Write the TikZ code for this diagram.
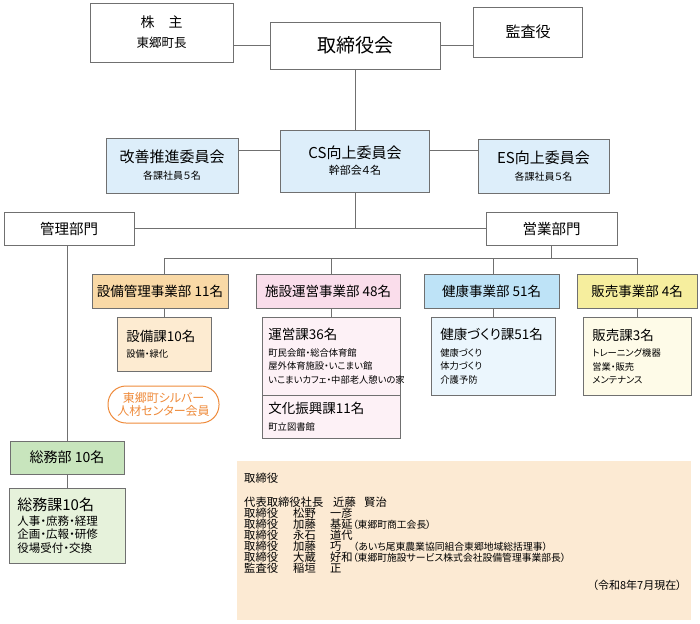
\documentclass[tikz,border=0pt]{standalone}
\usepackage{fontspec}
\setmainfont{Noto Sans CJK JP}[RawFeature=+palt]
\usepackage{tikz}
\usetikzlibrary{positioning}
\definecolor{linegray}{HTML}{707070}
\definecolor{iinkaiblue}{HTML}{DDEEFA}
\definecolor{setsubibg}{HTML}{F9D9A6}
\definecolor{setsubilt}{HTML}{FDEBD1}
\definecolor{shisetsubg}{HTML}{FADDEB}
\definecolor{shisetsult}{HTML}{FDF1F6}
\definecolor{kenkobg}{HTML}{BEE3F7}
\definecolor{kenkolt}{HTML}{EBF6FD}
\definecolor{hanbaibg}{HTML}{F6EE9E}
\definecolor{hanbailt}{HTML}{FEFBE8}
\definecolor{somubg}{HTML}{C8E5BD}
\definecolor{somult}{HTML}{E6F2DB}
\definecolor{yakuinbg}{HTML}{FCEAD3}
\definecolor{silver}{HTML}{EE8A3A}
\newcommand{\fsz}[2]{\fontsize{#1}{#2}\selectfont}
\newcommand{\yakuinline}[3]{\makebox[49pt][l]{#1}\makebox[37pt][l]{#2}#3}

\begin{document}
\begin{tikzpicture}[x=1pt,y=-1pt,
    box/.style={draw=linegray, line width=0.8pt, inner sep=0pt, align=center},
    unitbox/.style={box, align=left, anchor=north west, inner xsep=9pt},
    link/.style={draw=linegray, line width=0.8pt}]
  \useasboundingbox (0,0) rectangle (700,623);
  % Top level
  \node[box, minimum width=143pt, minimum height=59pt] (kabunushi) at (161.5,32.5)
    {{\fsz{14}{16}株　主}\\[8pt]{\fsz{12.5}{14}東郷町長}};
  \node[box, minimum width=170pt, minimum height=47pt, font=\fsz{19}{22}] (torishimari) at (355,45.5) {取締役会};
  \node[box, minimum width=109pt, minimum height=50pt, font=\fsz{15}{18}] (kansa) at (528,32) {監査役};
  \draw[link] (torishimari.west) -- (torishimari.west -| kabunushi.east);
  \draw[link] (torishimari.east) -- (torishimari.east -| kansa.west);
  % Committees
  \node[box, fill=iinkaiblue, minimum width=132pt, minimum height=55pt] (kaizen) at (172,165.5)
    {{\fsz{15}{18}改善推進委員会}\\[5pt]{\fsz{10}{12}各課社員５名}};
  \node[box, fill=iinkaiblue, minimum width=149pt, minimum height=62pt] (cs) at (355,161)
    {{\fsz{15}{18}CS向上委員会}\\[4pt]{\fsz{11}{13}幹部会４名}};
  \node[box, fill=iinkaiblue, minimum width=131pt, minimum height=54pt] (es) at (543.5,166)
    {{\fsz{15}{18}ES向上委員会}\\[5pt]{\fsz{10}{12}各課社員５名}};
  \coordinate (iinkai) at (0,150);
  \draw[link] (torishimari.south) -- (cs.north);
  \draw[link] (kaizen.east |- iinkai) -- (cs.west |- iinkai);
  \draw[link] (cs.east |- iinkai) -- (es.west |- iinkai);
  % Departments
  \node[box, minimum width=130pt, minimum height=33pt, font=\fsz{14.5}{16}] (kanri) at (69,228.5) {管理部門};
  \node[box, minimum width=131pt, minimum height=33pt, font=\fsz{14.5}{16}] (eigyo) at (551.5,228.5) {営業部門};
  \draw[link] (kanri.east) -- (eigyo.west);
  \draw[link] (cs.south) -- (cs.south |- kanri.east);
  % Divisions
  \node[box, fill=setsubibg, minimum width=136pt, minimum height=34pt, font=\fsz{13.5}{16}] (setsubi) at (160,291) {設備管理事業部 11名};
  \node[box, fill=shisetsubg, minimum width=144pt, minimum height=34pt, font=\fsz{13.5}{16}] (shisetsu) at (328,291) {施設運営事業部 48名};
  \node[box, fill=kenkobg, minimum width=135pt, minimum height=34pt, font=\fsz{13.5}{16}] (kenko) at (491.5,291) {健康事業部 51名};
  \node[box, fill=hanbaibg, minimum width=120pt, minimum height=34pt, font=\fsz{13.5}{16}] (hanbai) at (637,291) {販売事業部 4名};
  % Sections
  \node[unitbox, fill=setsubilt, text width=76pt, minimum height=54pt, font=\fsz{9.3}{13.5}] (setsubika) at (117,317)
    {{\fsz{13.5}{16}設備課10名}\\[3pt]設備・緑化};
  \node[unitbox, fill=shisetsult, text width=126pt, minimum height=78pt, inner xsep=6pt, font=\fsz{9.3}{13.5}] (uneika) at (262,317)
    {{\fsz{13.5}{16}運営課36名}\\[3pt]町民会館・総合体育館\\屋外体育施設・いこまい館\\いこまいカフェ・中部老人憩いの家};
  \node[unitbox, fill=shisetsult, text width=126pt, minimum height=43pt, inner xsep=6pt, font=\fsz{9.3}{13.5}] (bunka) at (262,395)
    {{\fsz{13.5}{16}文化振興課11名}\\[3pt]町立図書館};
  \node[unitbox, fill=kenkolt, text width=106pt, minimum height=78pt, font=\fsz{9.3}{13.5}] (kenkoka) at (431,317)
    {{\fsz{13.5}{16}健康づくり課51名}\\[3pt]健康づくり\\体力づくり\\介護予防};
  \node[unitbox, fill=hanbailt, text width=90pt, minimum height=78pt, font=\fsz{9.3}{13.5}] (hanbaika) at (583,317)
    {{\fsz{13.5}{16}販売課3名}\\[3pt]トレーニング機器\\営業・販売\\メンテナンス};
  % Connections of the sales side
  \coordinate (bus) at (0,258);
  \draw[link] (eigyo.south) -- (eigyo.south |- bus);
  \draw[link] (setsubika.north |- bus) -- (hanbaika.north |- bus);
  \foreach \dv/\sc in {setsubi/setsubika, shisetsu/uneika, kenko/kenkoka, hanbai/hanbaika} {
    \draw[link] (\sc.north |- bus) -- (\sc.north |- \dv.north);
    \draw[link] (\sc.north |- \dv.south) -- (\sc.north);
  }
  % Silver members
  \node[draw=silver, line width=1pt, rounded corners=18pt, minimum width=111pt, minimum height=37pt,
    inner sep=0pt, align=center, text=silver, font=\fsz{12}{13.5}] (silverjinzai) at (163.5,404.5)
    {東郷町シルバー\\人材センター会員};
  % General affairs
  \node[box, fill=somubg, minimum width=114pt, minimum height=33pt, font=\fsz{14}{16}] (somubu) at (67,457.5) {総務部 10名};
  \node[unitbox, fill=somult, text width=100pt, minimum height=75pt, inner xsep=8pt, font=\fsz{11.5}{13.5}] (somuka) at (9,488)
    {{\fsz{15}{17}総務課10名}\\[1pt]人事・庶務・経理\\企画・広報・研修\\役場受付・交換};
  \draw[link] (kanri.south -| somubu.north) -- (somubu.north);
  \draw[link] (somubu.south) -- (somuka.north -| somubu.south);
  % Officers
  \node[fill=yakuinbg, minimum width=454pt, minimum height=159pt, inner sep=0pt, anchor=north west] (yakuin) at (237,461) {};
  \node[anchor=west, inner sep=0pt, font=\fsz{11.3}{13}] (yakuinhead) at (244,478) {取締役};
  \node[anchor=north west, inner sep=0pt, align=left, font=\fsz{11.3}{11}] (yakuinlist) at (244,496.5)
    {\makebox[89pt][l]{代表取締役社長}\makebox[31pt][l]{近藤}賢治\\
     \yakuinline{取締役}{松野}{一彦}\\
     \yakuinline{取締役}{加藤}{基延{\fsz{9.8}{11}（東郷町商工会長）}}\\
     \yakuinline{取締役}{永石}{道代}\\
     \yakuinline{取締役}{加藤}{巧\hspace{12pt}{\fsz{9.8}{11}（あいち尾東農業協同組合東郷地域総括理事）}}\\
     \yakuinline{取締役}{大蔵}{好和{\fsz{9.8}{11}（東郷町施設サービス株式会社設備管理事業部長）}}\\
     \yakuinline{監査役}{稲垣}{正}};
  \node[anchor=east, inner sep=0pt, font=\fsz{11}{12}] (genzai) at (682,585) {（令和8年7月現在）};
\end{tikzpicture}
\end{document}
